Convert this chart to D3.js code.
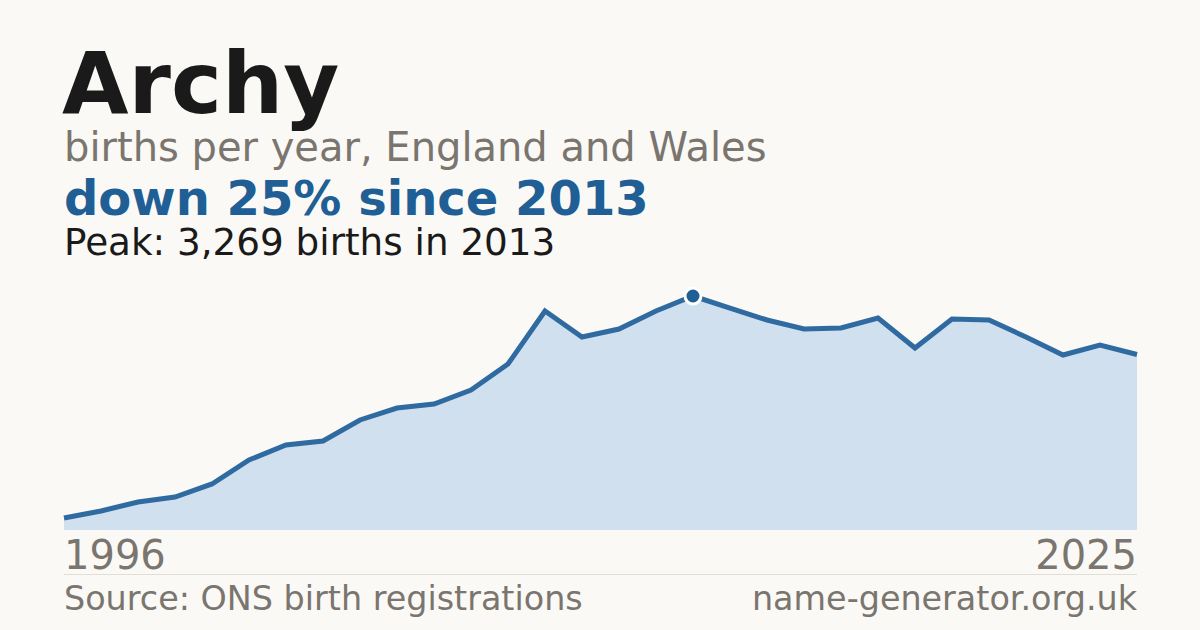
<!DOCTYPE html>
<html>
<head>
<meta charset="utf-8">
<script src="https://cdn.jsdelivr.net/npm/d3@7"></script>
<style>
  html, body { margin: 0; padding: 0; background: #faf9f5; }
  svg { display: block; }
</style>
</head>
<body>
<script>
// births per year for "Archy"
var years = d3.range(1996, 2026);
var births = [168, 265, 391, 461, 643, 978, 1187, 1243, 1537, 1704,
              1760, 1956, 2319, 3059, 2696, 2808, 3059, 3269, 3101, 2934,
              2808, 2822, 2962, 2543, 2948, 2934, 2696, 2445, 2584, 2452];
var titleText = "Archy";
var subtitleText = "births per year, England and Wales";
var changeText = "down 25% since 2013";
var peakText = "Peak: 3,269 births in 2013";
var sourceText = "Source: ONS birth registrations";
var siteText = "name-generator.org.uk";

(function() {
  var W = 1200, H = 630;
  var plotL = 64, plotR = 1137, plotT = 296, plotB = 530;
  var font = "DejaVu Sans";

  var svg = d3.select("body").append("svg")
      .attr("width", W)
      .attr("height", H);

  svg.append("rect").attr("width", W).attr("height", H).attr("fill", "#faf9f5");

  var data = years.map(function(y, i) { return {year: y, value: births[i]}; });
  var peak = data.reduce(function(a, b) { return b.value > a.value ? b : a; });

  var x = d3.scaleLinear().domain([years[0], years[years.length - 1]]).range([plotL, plotR]);
  var y = d3.scaleLinear().domain([0, peak.value]).range([plotB, plotT]);

  function label(txt, px, py, size, weight, color, anchor) {
    svg.append("text")
        .attr("x", px).attr("y", py)
        .attr("font-family", font)
        .attr("font-size", size)
        .attr("font-weight", weight)
        .attr("fill", color)
        .attr("text-anchor", anchor || "start")
        .text(txt);
  }

  // headings
  label(titleText, 62, 113, 86, "bold", "#1a1a1a");
  label(subtitleText, 64, 161, 40, "normal", "#7a756e");
  label(changeText, 64, 215, 48, "bold", "#1f5f96");
  label(peakText, 64, 255, 37.3, "normal", "#1a1a1a");

  // area + line
  var area = d3.area()
      .x(function(d) { return x(d.year); })
      .y0(plotB)
      .y1(function(d) { return y(d.value); });
  var line = d3.line()
      .x(function(d) { return x(d.year); })
      .y(function(d) { return y(d.value); });

  svg.append("path").datum(data)
      .attr("d", area)
      .attr("fill", "#d0e0ef");

  svg.append("path").datum(data)
      .attr("d", line)
      .attr("fill", "none")
      .attr("stroke", "#2f6ba1")
      .attr("stroke-width", 5)
      .attr("stroke-linejoin", "miter");

  svg.append("circle")
      .attr("cx", x(peak.year))
      .attr("cy", y(peak.value))
      .attr("r", 8)
      .attr("fill", "#1f5f96")
      .attr("stroke", "#ffffff")
      .attr("stroke-width", 3);

  // axis ends
  label(years[0], 64, 569, 40, "normal", "#7a756e");
  label(years[years.length - 1], plotR, 569, 40, "normal", "#7a756e", "end");

  svg.append("line")
      .attr("x1", plotL).attr("x2", plotR)
      .attr("y1", 574.5).attr("y2", 574.5)
      .attr("stroke", "#e2ded6").attr("stroke-width", 1);

  label(sourceText, 64, 610, 33.4, "normal", "#7a756e");
  label(siteText, plotR, 610, 33.4, "normal", "#7a756e", "end");
})();
</script>
</body>
</html>
